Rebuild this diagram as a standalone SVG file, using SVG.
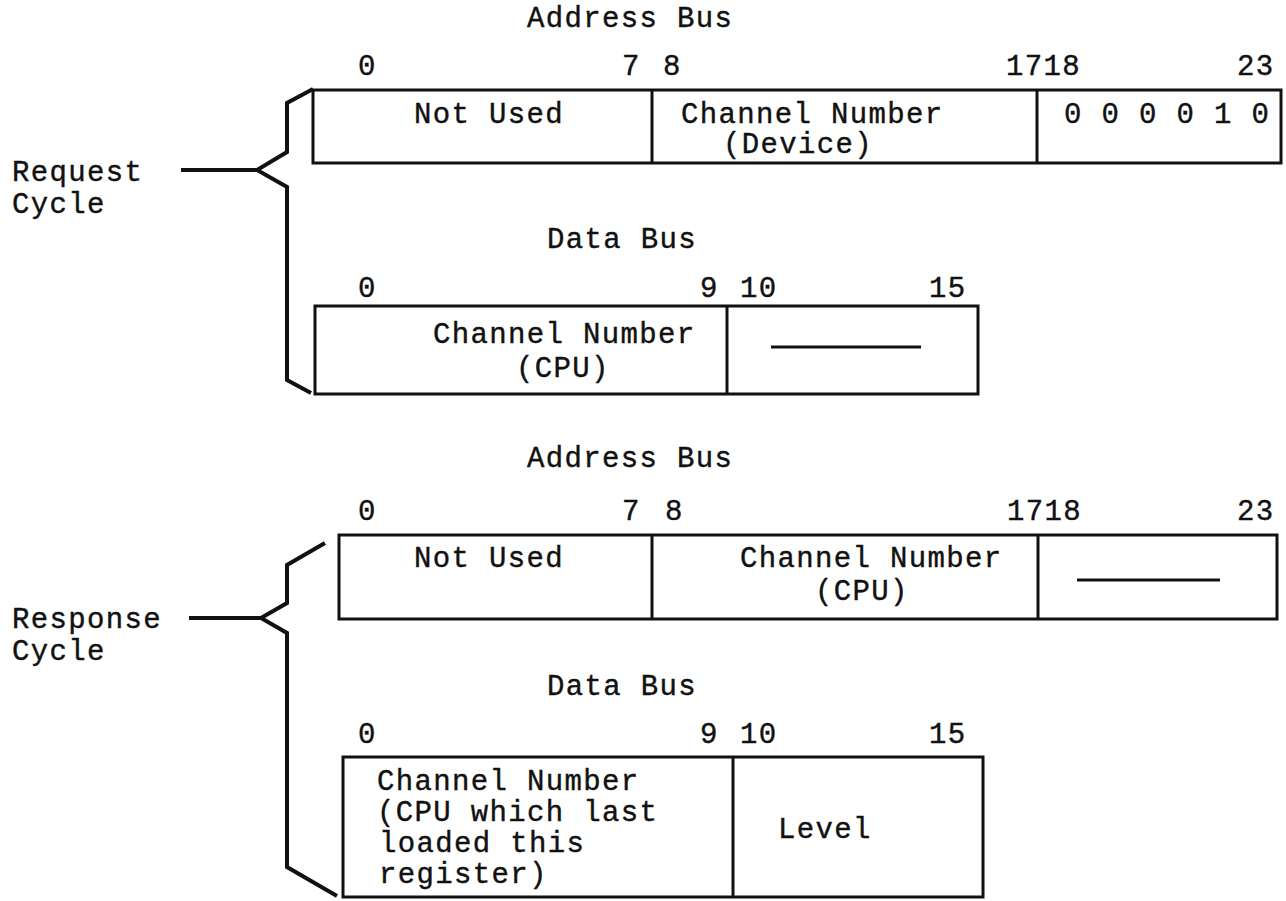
<svg xmlns="http://www.w3.org/2000/svg" width="1286" height="901" viewBox="0 0 1286 901">
<style>
text { font-family: "Liberation Mono", "DejaVu Sans Mono", monospace; font-size: 29px; letter-spacing: 1.35px; fill: #111; stroke: #111; stroke-width: 0.4; }
.box { fill: none; stroke: #111; stroke-width: 3; }
.div { stroke: #111; stroke-width: 3; }
.dash { stroke: #111; stroke-width: 3; }
.brace { fill: none; stroke: #111; stroke-width: 4; stroke-linejoin: miter; }
</style>
<rect width="1286" height="901" fill="#fff"/>

<g id="request-label">
<text x="12" y="181">Request</text>
<text x="12" y="213">Cycle</text>
</g>

<g id="req-address">
<text x="527" y="27">Address Bus</text>
<text x="358" y="75">0</text>
<text x="622" y="75">7</text>
<text x="663" y="75">8</text>
<text x="1006" y="75">1718</text>
<text x="1237" y="75">23</text>
<rect class="box" x="313" y="90" width="968" height="73"/>
<line class="div" x1="652" y1="90" x2="652" y2="163"/>
<line class="div" x1="1037" y1="90" x2="1037" y2="163"/>
<text x="414" y="123">Not Used</text>
<text x="681" y="123">Channel Number</text>
<text x="723" y="153">(Device)</text>
<text x="1064" y="123">0 0 0 0 1 0</text>
</g>

<g id="req-data">
<text x="547" y="248">Data Bus</text>
<text x="358" y="297">0</text>
<text x="700" y="297">9</text>
<text x="740" y="297">10</text>
<text x="929" y="297">15</text>
<rect class="box" x="315" y="306" width="663" height="88"/>
<line class="div" x1="727" y1="306" x2="727" y2="394"/>
<text x="433" y="343">Channel Number</text>
<text x="516" y="377">(CPU)</text>
<line class="dash" x1="771" y1="347" x2="921" y2="347"/>
</g>

<g id="response-label">
<text x="12" y="628">Response</text>
<text x="12" y="660">Cycle</text>
</g>

<g id="resp-address">
<text x="527" y="467">Address Bus</text>
<text x="358" y="520">0</text>
<text x="622" y="520">7</text>
<text x="665" y="520">8</text>
<text x="1007" y="520">1718</text>
<text x="1237" y="520">23</text>
<rect class="box" x="339" y="535" width="938" height="84"/>
<line class="div" x1="652" y1="535" x2="652" y2="619"/>
<line class="div" x1="1038" y1="535" x2="1038" y2="619"/>
<text x="414" y="567">Not Used</text>
<text x="740" y="567">Channel Number</text>
<text x="815" y="600">(CPU)</text>
<line class="dash" x1="1077" y1="580" x2="1220" y2="580"/>
</g>

<g id="resp-data">
<text x="547" y="695">Data Bus</text>
<text x="358" y="743">0</text>
<text x="700" y="743">9</text>
<text x="740" y="743">10</text>
<text x="929" y="743">15</text>
<rect class="box" x="343" y="757" width="640" height="140"/>
<line class="div" x1="733" y1="757" x2="733" y2="897"/>
<text x="377" y="790">Channel Number</text>
<text x="377" y="821">(CPU which last</text>
<text x="379" y="852">loaded this</text>
<text x="379" y="883">register)</text>
<text x="778" y="838">Level</text>
</g>

<g id="connectors">
<path class="brace" d="M313,89 L287,103 L287,152 L257,170 L287,187 L287,380 L311,393"/>
<line class="brace" x1="181" y1="170" x2="257" y2="170"/>
<path class="brace" d="M325,543 L287,565 L287,603 L261,618 L287,633 L287,867 L337,896"/>
<line class="brace" x1="189" y1="618" x2="261" y2="618"/>
</g>
</svg>
